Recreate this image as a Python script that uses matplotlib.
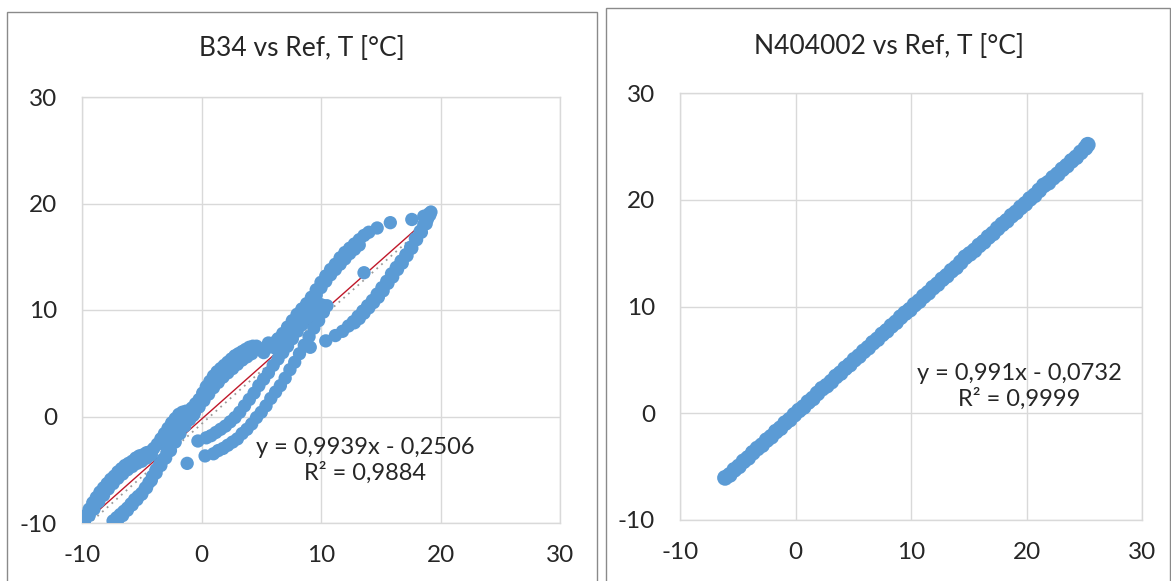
import matplotlib
matplotlib.use("Agg")
import matplotlib.pyplot as plt
from matplotlib.patches import Rectangle
import numpy as np

plt.rcParams['font.family'] = ['Lato', 'DejaVu Sans']
plt.rcParams['axes.unicode_minus'] = False

# ---------------- data: B34 vs Ref ----------------
b34_a_x = [-10.0, -9.7, -9.4, -9.1, -8.8, -8.5, -8.2, -7.9, -7.6, -7.3, -7.0, -6.7, -6.4, -6.1,
           -5.8, -5.5, -5.2, -4.9, -4.6, -4.3, -4.0, -3.7, -3.4, -3.1, -2.8, -2.5, -2.2, -1.9,
           -1.6, -1.3, -1.0, -0.7]
b34_a_y = [-9.9, -9.3, -8.7, -8.1, -7.6, -7.1, -6.7, -6.3, -5.9, -5.6, -5.2, -4.9, -4.6, -4.4,
           -4.2, -3.9, -3.7, -3.6, -3.4, -3.3, -3.0, -2.6, -2.1, -1.6, -1.1, -0.6, -0.2, 0.2,
           0.4, 0.5, 0.4, 0.1]
b34_a2_x = [-9.8, -9.4, -9.0, -8.6, -8.2, -7.8, -7.4, -7.0, -6.6, -6.2, -5.8, -5.4, -5.0, -4.6, -4.2]
b34_a2_y = [-9.9, -9.3, -8.7, -8.0, -7.4, -6.8, -6.3, -5.8, -5.4, -5.0, -4.7, -4.4, -4.2, -3.9, -3.6]
b34_b_x = [-7.4, -7.1, -6.8, -6.5, -6.2, -5.9, -5.6, -5.3, -5.0, -4.7, -4.4, -4.1, -3.8, -3.5,
           -3.2, -2.9, -2.6, -2.3, -2.0, -1.7, -1.4, -1.1, -0.8, -0.5, -0.2, 0.1, 0.4, 0.7,
           1.0, 1.3, 1.6, 1.9, 2.2, 2.5, 2.8, 3.1, 3.4, 3.7, 4.0, 4.3, 4.6]
b34_b_y = [-9.8, -9.5, -9.2, -8.9, -8.6, -8.2, -7.8, -7.5, -7.2, -6.7, -6.2, -5.6, -5.0, -4.5,
           -4.0, -3.4, -2.7, -1.9, -1.2, -0.6, -0.1, 0.4, 0.8, 1.2, 1.6, 2.2, 2.8, 3.3,
           3.8, 4.2, 4.5, 4.8, 5.1, 5.4, 5.7, 5.9, 6.1, 6.3, 6.5, 6.6, 6.6]
b34_b2_x = [-7.0, -6.6, -6.2, -5.8, -5.4, -5.0, -4.6, -4.2, -3.8, -3.4, -3.0, -2.6, -2.2, -1.8,
            -1.4, -1.0, -0.6, -0.2, 0.2, 0.6, 1.0, 1.4, 1.8, 2.2, 2.6, 3.0, 3.4, 3.8, 4.2]
b34_b2_y = [-9.7, -9.3, -8.8, -8.3, -7.8, -7.3, -6.7, -6.0, -5.3, -4.6, -3.9, -3.2, -2.4, -1.6,
            -0.9, -0.3, 0.3, 0.9, 1.5, 2.1, 2.7, 3.2, 3.7, 4.1, 4.5, 4.9, 5.3, 5.6, 5.9]
b34_c_x = [-0.3, 0.4, 0.8, 1.2, 1.6, 2.0, 2.4, 2.8, 3.2, 3.6, 4.0, 4.4, 4.8, 5.2, 5.6, 6.0,
           6.4, 6.8, 7.2, 7.6, 8.0, 8.4, 8.8, 9.2, 9.6, 10.0]
b34_c_y = [-2.3, -2.0, -1.8, -1.5, -1.2, -0.9, -0.5, -0.1, 0.4, 1.0, 1.6, 2.2, 2.9, 3.5, 4.1, 4.8,
           5.4, 6.0, 6.6, 7.3, 8.0, 8.6, 9.2, 9.8, 10.2, 10.5]
b34_d_x = [-1.2, 0.3, 1.0, 1.4, 1.8, 2.2, 2.6, 3.0, 3.4, 3.8, 4.2, 4.6, 5.0, 5.4, 5.8, 6.2,
           6.6, 7.0, 7.4, 7.8, 8.2, 8.6, 9.0, 9.4, 9.8, 10.2, 10.5]
b34_d_y = [-4.4, -3.7, -3.5, -3.2, -3.0, -2.7, -2.4, -2.1, -1.6, -1.2, -0.7, -0.1, 0.4, 1.0, 1.7, 2.3,
           2.9, 3.6, 4.4, 5.1, 5.9, 6.7, 7.5, 8.3, 9.0, 9.8, 10.4]
b34_e_x = [5.2, 5.6, 6.0, 6.4, 6.8, 7.2, 7.6, 8.0, 8.4, 8.8, 9.2, 9.6, 10.0, 10.4, 10.8, 11.2,
           11.6, 12.0, 12.4, 12.8, 13.2, 13.6, 14.0, 14.7, 15.8, 17.6, 18.6, 19.0]
b34_e_y = [6.0, 6.5, 6.9, 7.3, 7.8, 8.4, 9.0, 9.6, 10.1, 10.6, 11.2, 11.9, 12.6, 13.2, 13.8, 14.3,
           14.9, 15.4, 15.8, 16.2, 16.6, 17.0, 17.3, 17.7, 18.2, 18.5, 18.8, 19.0]
b34_e2_x = [6.0, 6.4, 6.8, 7.2, 7.6, 8.0, 8.4, 8.8, 9.2, 9.6, 10.0, 10.4, 10.8, 11.2, 11.6, 12.0,
            12.4, 12.8, 13.2]
b34_e2_y = [6.6, 7.0, 7.5, 8.0, 8.6, 9.2, 9.7, 10.2, 10.8, 11.4, 12.1, 12.7, 13.3, 13.8, 14.3, 14.8,
            15.3, 15.7, 16.1]
b34_f_x = [9.1, 10.4, 11.2, 11.8, 12.3, 12.7, 13.1, 13.5, 13.9, 14.3, 14.7, 15.1, 15.5, 15.9,
           16.3, 16.7, 17.1, 17.5, 17.9, 18.3, 18.6, 18.9, 19.1, 19.2]
b34_f_y = [6.5, 7.1, 7.6, 8.0, 8.5, 8.9, 9.4, 9.9, 10.4, 10.9, 11.5, 12.1, 12.7, 13.4,
           14.0, 14.6, 15.2, 15.9, 16.7, 17.4, 18.0, 18.5, 18.9, 19.2]
b34_f2_x = [12.8, 13.2, 13.6, 14.0, 14.4, 14.8, 15.2, 15.6, 16.0, 16.4, 16.8, 17.2, 17.6, 18.0,
            18.4, 18.8]
b34_f2_y = [8.8, 9.2, 9.7, 10.2, 10.7, 11.2, 11.8, 12.5, 13.1, 13.8, 14.4, 15.1, 15.8, 16.6,
            17.3, 18.1]
b34_extra_x = [13.6, 10.2, 5.6, 6.2, 5.0, -2.6, -2.9]
b34_extra_y = [13.5, 10.4, 6.9, 6.4, 6.3, -2.3, -2.8]

b34_slope = 0.9939
b34_intercept = -0.2506
b34_trend_x = [-9.5, 18.3]

# ---------------- data: N404002 vs Ref ----------------
n40_x = [-6.1, -5.7, -5.3, -4.9, -4.5, -4.1, -3.7, -3.3, -2.9, -2.5, -2.1, -1.7, -1.3, -0.9, -0.5,
         -0.1, 0.3, 0.7, 1.1, 1.5, 1.9, 2.3, 2.7, 3.1, 3.5, 3.9, 4.3, 4.7, 5.1, 5.5, 5.9, 6.3,
         6.7, 7.1, 7.5, 7.9, 8.3, 8.7, 9.1, 9.5, 9.9, 10.3, 10.7, 11.1, 11.5, 11.9, 12.3, 12.7,
         13.1, 13.5, 13.9, 14.3, 14.7, 15.1, 15.5, 15.9, 16.3, 16.7, 17.1, 17.5, 17.9, 18.3,
         18.7, 19.1, 19.5, 19.9, 20.3, 20.7, 21.1, 21.5, 21.9, 22.3, 22.7, 23.1, 23.5, 23.9,
         24.3, 24.7, 25.1, 25.3]
n40_y = [-6.05, -5.78, -5.30, -4.98, -4.50, -4.18, -3.70, -3.30, -2.99, -2.52, -2.20, -1.72,
         -1.40, -0.92, -0.60, -0.14, 0.26, 0.58, 1.05, 1.38, 1.86, 2.30, 2.58, 2.96, 3.44, 3.76,
         4.22, 4.55, 5.02, 5.35, 5.80, 6.14, 6.60, 6.93, 7.39, 7.72, 8.18, 8.52, 9.00, 9.38,
         9.70, 10.17, 10.50, 10.96, 11.29, 11.76, 12.09, 12.55, 12.88, 13.35, 13.67, 14.14,
         14.62, 14.93, 15.26, 15.72, 16.05, 16.51, 16.84, 17.31, 17.70, 18.03, 18.50, 18.82,
         19.28, 19.62, 20.08, 20.41, 20.88, 21.35, 21.60, 22.06, 22.39, 22.85, 23.19, 23.64,
         23.98, 24.44, 24.85, 25.15]

titles = ["B34 vs Ref, T [°C]", "N404002 vs Ref, T [°C]"]
eq_texts = ["y = 0,9939x - 0,2506\nR² = 0,9884", "y = 0,991x - 0,0732\nR² = 0,9999"]
ticks = [-10, 0, 10, 20, 30]

BLUE = '#5b9bd5'
GRID = '#d9d9d9'
TXT = '#262626'

W, H = 1171, 581
fig = plt.figure(figsize=(W / 100, H / 100), dpi=100)

def fx(px):
    return px / W

def fy(py):
    return 1 - py / H

# panel borders
fig.patches.append(Rectangle((fx(7), fy(590)), fx(597) - fx(7), fy(12) - fy(590),
                             transform=fig.transFigure, fill=False, edgecolor='#8a8a8a', lw=1.0))
fig.patches.append(Rectangle((fx(606), fy(590)), fx(1169.5) - fx(606), fy(8) - fy(590),
                             transform=fig.transFigure, fill=False, edgecolor='#8a8a8a', lw=1.0))

ax1 = fig.add_axes([fx(82), fy(523), fx(560) - fx(82), fy(97) - fy(523)])
ax2 = fig.add_axes([fx(680), fy(520), fx(1142) - fx(680), fy(93) - fy(520)])

def style(ax):
    ax.set_xlim(-10, 30)
    ax.set_ylim(-10, 30)
    ax.set_xticks(ticks)
    ax.set_yticks(ticks)
    ax.grid(True, color=GRID, lw=1.0)
    ax.set_axisbelow(True)
    for s in ax.spines.values():
        s.set_color(GRID)
        s.set_linewidth(1.0)
    ax.tick_params(length=0, labelsize=17.5, colors=TXT)
    ax.tick_params(axis='y', pad=18)
    ax.tick_params(axis='x', pad=16)

style(ax1)
style(ax2)

left_x = np.concatenate([b34_a_x, b34_a2_x, b34_b_x, b34_b2_x, b34_c_x, b34_d_x, b34_e_x,
                         b34_e2_x, b34_f_x, b34_f2_x, b34_extra_x])
left_y = np.concatenate([b34_a_y, b34_a2_y, b34_b_y, b34_b2_y, b34_c_y, b34_d_y, b34_e_y,
                         b34_e2_y, b34_f_y, b34_f2_y, b34_extra_y])

tx = np.array(b34_trend_x)
ax1.plot(tx, b34_slope * tx + b34_intercept - 0.45, color='#9a9a9a', lw=1.3, ls=(0, (1, 2.5)), zorder=2.6)
ax1.plot(tx, b34_slope * tx + b34_intercept, color='#c0182a', lw=1.0, zorder=2.7)
ax1.scatter(left_x, left_y, s=92, color=BLUE, edgecolors='none', zorder=3)

ax2.scatter(n40_x, n40_y, s=130, color=BLUE, edgecolors='none', zorder=3)

ax1.text(13.7, -4.15, eq_texts[0], ha='center', va='center', fontsize=17, color=TXT,
         linespacing=1.2, zorder=6)
ax2.text(19.4, 2.55, eq_texts[1], ha='center', va='center', fontsize=17, color=TXT,
         linespacing=1.2, zorder=6)

fig.text(fx(302), fy(48), titles[0], ha='center', va='center', fontsize=19, color=TXT)
fig.text(fx(889), fy(47), titles[1], ha='center', va='center', fontsize=19, color=TXT)

fig.savefig('out.png', dpi=100)
